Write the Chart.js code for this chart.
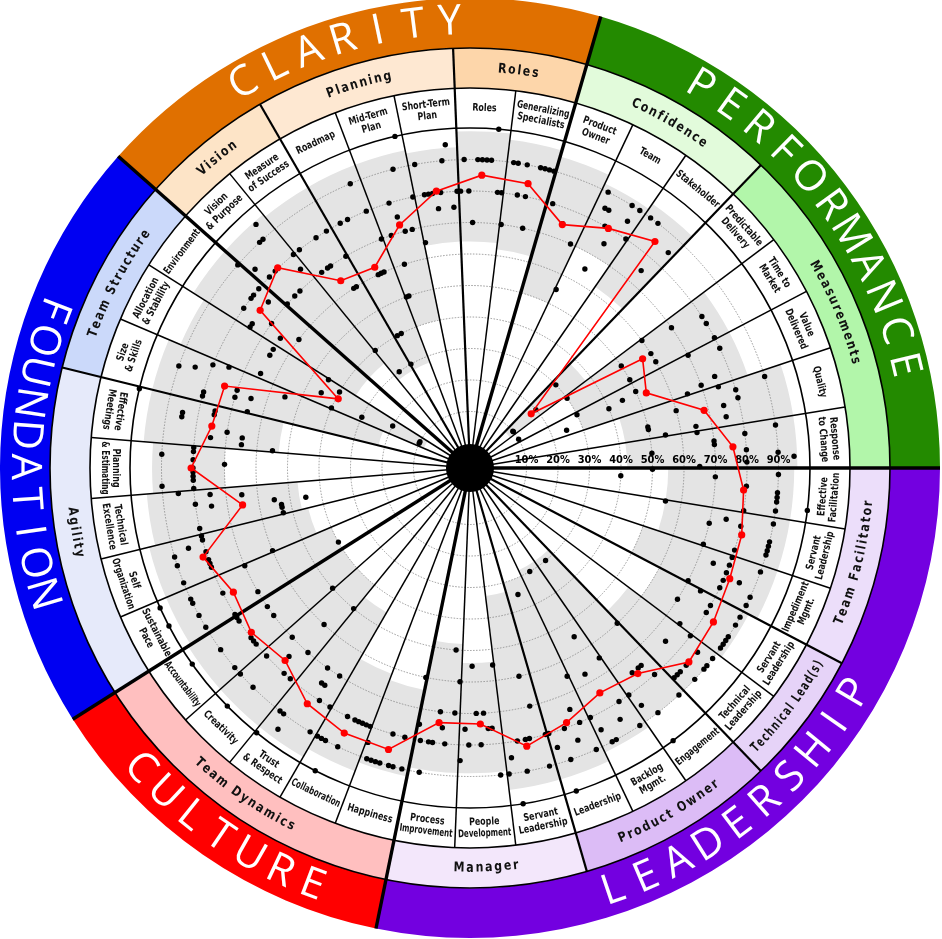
<!DOCTYPE html>
<html><head><meta charset="utf-8">
<script src="https://cdn.jsdelivr.net/npm/chart.js@4.4.1/dist/chart.umd.min.js"></script>
<style>html,body{margin:0;padding:0;background:#fff}canvas{display:block}</style>
</head><body>
<canvas id="c" width="942" height="939"></canvas>
<script>
// ---------- structure ----------
const categories = ['PERFORMANCE', 'LEADERSHIP', 'CULTURE', 'FOUNDATION', 'CLARITY'];
const categorySizes = [8, 11, 5, 8, 7];
const categoryColors = ['#238a00', '#7300e0', '#ff0000', '#0000f2', '#e07000'];
const categoryLetterStep = [4.55, 4.55, 4.5, 4.15, 4.65];   // degrees between letters
const categoryTextShift = [0.8, 0, -0.4, -2.4, -0.4];       // degrees

const subcategories = ['Confidence', 'Measurements', 'Team Facilitator', 'Technical Lead(s)', 'Product Owner', 'Manager',
  'Team Dynamics', 'Agility', 'Team Structure', 'Vision', 'Planning', 'Roles'];
const subcategorySizes = [3, 5, 3, 2, 3, 3, 5, 5, 3, 2, 3, 2];
const subcategoryColors = ['#e2fbdb', '#b2f6aa', '#ecdefa', '#e6d3f8', '#dcbcf6', '#f3e7fb',
  '#ffbfbf', '#e6eafa', '#cbd9fa', '#fde4c7', '#fee8d2', '#fdd6aa'];

const labels = [
  ['Product', 'Owner'], ['Team'], ['Stakeholder'], ['Predictable', 'Delivery'], ['Time to', 'Market'],
  ['Value', 'Delivered'], ['Quality'], ['Response', 'to Change'],
  ['Effective', 'Facilitation'], ['Servant', 'Leadership'], ['Impediment', 'Mgmt.'], ['Servant', 'Leadership'],
  ['Technical', 'Leadership'], ['Engagement'], ['Backlog', 'Mgmt.'], ['Leadership'], ['Servant', 'Leadership'],
  ['People', 'Development'], ['Process', 'Improvement'],
  ['Happiness'], ['Collaboration'], ['Trust', '& Respect'], ['Creativity'], ['Accountability'],
  ['Sustainable', 'Pace'], ['Self', 'Organization'], ['Technical', 'Excellence'], ['Planning', '& Estimating'],
  ['Effective', 'Meetings'], ['Size', '& Skills'], ['Allocation', '& Stability'], ['Environment'],
  ['Vision', '& Purpose'], ['Measure', 'of Success'], ['Roadmap'], ['Mid-Term', 'Plan'], ['Short-Term', 'Plan'],
  ['Roles'], ['Generalizing', 'Specialists']
];

const percentTicks = [10, 20, 30, 40, 50, 60, 70, 80, 90];

// ---------- values ----------
const averageScores = [
  74.7, 79.9, 84.9, 18.0, 56.9, 52.9, 68.6, 75.8,
  79.2, 80.9, 81.7, 83.5, 84.9, 76.3, 74.5, 78.5, 82.2, 73.4, 73.5,
  85.1, 85.2, 83.0, 76.8, 78.9,
  76.9, 81.4, 65.2, 80.6, 75.1, 74.2, 39.3, 75.4,
  80.2, 64.3, 62.6, 72.4, 80.6, 85.1, 84.2
];

// benchmark band (grey) low / high per item
const bandLow = [
  50, 70, 62, 8, 30, 30, 42, 42,
  55, 55, 50, 60, 55, 28, 28, 30, 33, 54, 48,
  64, 62, 45, 40, 40,
  40, 45, 47, 70, 53, 22, 8, 35,
  35, 28, 28, 40, 64, 64, 62
];
const bandHigh = [
  95, 92, 94, 38, 85, 85, 96, 96,
  95, 95, 95, 92, 90, 90, 92, 95, 95, 89, 89,
  92, 95, 98, 98, 98,
  97, 97, 95, 93, 96, 96, 92, 96,
  96, 95, 95, 95, 94, 99, 97
];

// individual responses (11 respondents) per item; null = no answer
const responsesPerformance = [
  [null, 80, null, null, null, 75, null, null, null, 70, null],
  [55, 90, 85, 85, 80, 65, 75, 90, 85, 90, 80],
  [null, 90, null, 90, null, null, null, 75, null, 85, null],
  [null, null, 30, null, null, 20, 10, 10, null, null, null],
  [60, 30, 70, 50, 80, 60, 80, 10, 60, 50, 80],
  [70, 30, 80, 50, 45, 40, null, 25, 75, 70, 65],
  [75, 90, 80, 60, 80, 75, 50, 50, 75, 65, 55],
  [65, 90, 80, 70, 70, 50, 80, 90, 95, 80, 65]
];
const responsesLeadership = [
  [50, 90, 70, 40, 80, 90, 90, 90, 100, 90, 80],
  [55, 90, 75, 80, 70, 90, 90, 90, 90, 80, 70],
  [80, 90, 80, 75, 80, 85, 80, 90, 80, 90, 70],
  [75, 90, 80, 90, 80, 70, 90, 90, 90, 90, 75],
  [80, 90, 85, 90, 90, 75, 85, 90, 85, 85, 85],
  [60, 90, 80, 75, 75, 30, 75, 90, 100, 85, 80],
  [65, 90, 80, 55, 85, 30, 67, 90, 90, 85, 80],
  [65, 90, 80, 75, 85, 35, 80, 90, 100, 85, 80],
  [80, 90, 70, 60, 80, 80, 90, 80, 100, 85, 90],
  [55, 90, 75, 75, 70, 80, 70, 55, 80, 75, 85],
  [60, 70, 50, 80, 75, 70, 80, 80, 90, 80, 75]
];
const responsesCulture = [
  [60, 90, 80, 90, 90, 80, 90, 90, 90, 90, 85],
  [80, 80, 80, 80, 80, 90, 80, 100, 90, 90, 90],
  [80, 90, 70, 80, 75, 75, 70, 95, 90, 90, 100],
  [50, 80, 70, 80, 60, 75, 90, 100, 70, 80, 90],
  [50, 90, 80, 80, 80, 70, 90, 100, 70, 80, 80]
];
const responsesFoundation = [
  [80, 90, 70, 40, 90, 100, 80, 90, 90, 100, 70],
  [60, 90, 80, 80, 80, 90, 80, 90, 85, 80, 80],
  [53, 80, 53, 53, 45, 55, 75, 80, 65, 75, 85],
  [80, 90, 80, 80, 80, 80, 70, 80, 90, 80, 80],
  [55, 65, 75, 65, 70, 75, 85, 85, 75, 75, 100],
  [65, 80, 80, 70, 65, 70, 90, 85, 55, 80, 75],
  [40, 65, 30, 10, 45, 10, 20, 65, 40, 65, 45],
  [75, 75, 65, 80, 70, 60, 80, 80, 75, 80, 90]
];
const responsesClarity = [
  [70, 85, 80, 70, 80, 70, 90, 90, 95, 75, 80],
  [40, 80, 70, 30, 70, 70, 80, 60, 60, 80, 70],
  [30, 40, 80, 40, 80, 60, 60, 60, 90, 80, 70],
  [50, 50, 70, 60, 80, 75, 70, 90, 70, 100, 80],
  [65, 90, 80, 80, 80, 75, 80, 90, 95, 75, 80],
  [80, 90, 80, 70, 90, 90, 90, 90, 100, 80, 80],
  [70, 90, 90, 80, 90, 80, 70, 90, 90, 90, 90]
];

// ---------- build ----------
const itemResponses = [].concat(responsesPerformance, responsesLeadership, responsesCulture, responsesFoundation, responsesClarity);
const RESPONDENTS = 11;
const respondentSeries = Array.from({length: RESPONDENTS}, (_, j) => itemResponses.map(r => (r[j] === undefined ? null : r[j])));

const N = labels.length;
const STEP_DEG = 360 / N;
const START_ANGLE = 90 - (categorySizes[0] - 0.5) * STEP_DEG;
const SLOT_SPREAD = 0.092;
const ZERO_OFFSET = -7.94;

function groupStarts(sizes) { const s = []; let k = 0; sizes.forEach(n => { s.push(k); k += n; }); return s; }
const catStarts = groupStarts(categorySizes);
const subStarts = groupStarts(subcategorySizes);

function flipAt(bDeg) { return bDeg > 90 && bDeg < 284; }

function arcText(ctx, cx, cy, text, r, theta, flip, tracking, stepArc, hScale, maxArc) {
  const chars = [...text];
  let sx = hScale || 1;
  let widths = chars.map(ch => ctx.measureText(ch).width * sx);
  const n = chars.length;
  let centers;
  if (stepArc) {
    centers = chars.map((_, k) => (k - (n - 1) / 2) * stepArc);
  } else {
    let total = widths.reduce((a, b) => a + b, 0) + tracking * (n - 1);
    if (maxArc && total > maxArc) {
      const f = maxArc / total; sx *= f; tracking *= f;
      widths = widths.map(w => w * f); total = maxArc;
    }
    let acc = 0; centers = [];
    widths.forEach(w => { centers.push(acc + w / 2 - total / 2); acc += w + tracking; });
  }
  const dir = flip ? -1 : 1;
  ctx.textAlign = 'center'; ctx.textBaseline = 'middle';
  chars.forEach((ch, k) => {
    const a = theta + dir * centers[k] / r;
    ctx.save();
    ctx.translate(cx + r * Math.cos(a), cy + r * Math.sin(a));
    ctx.rotate(flip ? a - Math.PI / 2 : a + Math.PI / 2);
    ctx.scale(sx, 1);
    ctx.fillText(ch, 0, 0);
    ctx.restore();
  });
}

const wheelPlugin = {
  id: 'wheel',
  afterDatasetsUpdate(chart) {
    const s = chart.scales.r;
    chart.data.datasets.forEach((ds, di) => {
      if (ds.slot === undefined) return;
      const meta = chart.getDatasetMeta(di);
      meta.data.forEach((pt, i) => {
        const v = ds.data[i];
        if (v === null || v === undefined) return;
        const p = s.getPointPosition(i + (ds.slot - (RESPONDENTS - 1) / 2) * SLOT_SPREAD, s.getDistanceFromCenterForValue(v));
        pt.x = p.x; pt.y = p.y;
      });
    });
  },
  beforeDatasetsDraw(chart) {
    const ctx = chart.ctx, s = chart.scales.r;
    const cx = s.xCenter, cy = s.yCenter;
    const R1 = s.drawingArea, R2 = R1 + 40, R3 = R1 + 80, R4 = R1 + 130;
    const ang = i => s.getIndexAngle(i) - Math.PI / 2;
    const bear = i => s.getIndexAngle(i) * 180 / Math.PI;
    const stepRad = 2 * Math.PI / N;
    const ringSeg = (r0, r1, i0, i1, color) => {
      ctx.beginPath();
      ctx.arc(cx, cy, r1, ang(i0), ang(i1), false);
      ctx.arc(cx, cy, r0, ang(i1), ang(i0), true);
      ctx.closePath();
      ctx.fillStyle = color; ctx.fill();
    };
    ctx.save();
    categories.forEach((c, k) => ringSeg(R3, R4, catStarts[k] - 0.5, catStarts[k] + categorySizes[k] - 0.5, categoryColors[k]));
    subcategories.forEach((c, k) => ringSeg(R2, R3, subStarts[k] - 0.5, subStarts[k] + subcategorySizes[k] - 0.5, subcategoryColors[k]));
    ctx.beginPath(); ctx.arc(cx, cy, R2, 0, Math.PI * 2); ctx.arc(cx, cy, R1, 0, Math.PI * 2, true);
    ctx.fillStyle = '#fff'; ctx.fill();
    for (let i = 0; i < N; i++) {
      ringSeg(s.getDistanceFromCenterForValue(bandLow[i]), s.getDistanceFromCenterForValue(bandHigh[i]), i - 0.5, i + 0.5, '#e4e4e4');
    }
    ctx.setLineDash([1.5, 1.5]); ctx.strokeStyle = '#8c8c8c'; ctx.lineWidth = 0.9;
    percentTicks.forEach(p => { ctx.beginPath(); ctx.arc(cx, cy, s.getDistanceFromCenterForValue(p), 0, Math.PI * 2); ctx.stroke(); });
    ctx.setLineDash([]);
    ctx.strokeStyle = '#000'; ctx.lineWidth = 1.6;
    [R1, R2, R3].forEach(r => { ctx.beginPath(); ctx.arc(cx, cy, r, 0, Math.PI * 2); ctx.stroke(); });
    const catB = new Set(catStarts), subB = new Set(subStarts);
    for (let k = 0; k < N; k++) {
      let w = 1.5, rr = R2;
      if (catB.has(k)) { w = 3.4; rr = R4; } else if (subB.has(k)) { w = 2.2; rr = R3; }
      const a = ang(k - 0.5);
      ctx.beginPath(); ctx.moveTo(cx, cy); ctx.lineTo(cx + rr * Math.cos(a), cy + rr * Math.sin(a));
      ctx.lineWidth = w; ctx.strokeStyle = '#000'; ctx.stroke();
    }
    ctx.beginPath(); ctx.arc(cx, cy, s.getDistanceFromCenterForValue(0) - 1, 0, Math.PI * 2); ctx.fillStyle = '#000'; ctx.fill();
    ctx.fillStyle = '#000'; ctx.font = 'bold 11px "DejaVu Sans Condensed", "Liberation Sans", sans-serif';
    ctx.textAlign = 'center'; ctx.textBaseline = 'bottom';
    percentTicks.forEach(p => ctx.fillText(p + '%', cx + s.getDistanceFromCenterForValue(p), cy - 2));
    // item labels
    const rm = (R1 + R2) / 2, lh = 11.5;
    const maxW = 2 * rm * Math.sin(Math.PI / N) * 0.92;
    ctx.textAlign = 'center'; ctx.textBaseline = 'middle';
    ctx.font = 'bold 10.5px "DejaVu Sans Condensed", "Liberation Sans", sans-serif';
    labels.forEach((lines, i) => {
      const th = ang(i), fl = flipAt(bear(i));
      ctx.save();
      ctx.translate(cx + rm * Math.cos(th), cy + rm * Math.sin(th));
      ctx.rotate(fl ? th - Math.PI / 2 : th + Math.PI / 2);
      lines.forEach((ln, k) => {
        const y = (k - (lines.length - 1) / 2) * lh;
        const w = ctx.measureText(ln).width * 0.84;
        const sx = w > maxW ? 0.84 * maxW / w : 0.84;
        ctx.save();
        ctx.scale(sx, 1);
        ctx.fillStyle = '#111'; ctx.fillText(ln, 0, y);
        ctx.restore();
      });
      ctx.restore();
    });
    // subcategory labels
    ctx.font = 'bold 13.5px "DejaVu Sans Condensed", "DejaVu Sans", sans-serif';
    ctx.fillStyle = '#111';
    const rs = (R2 + R3) / 2;
    subcategories.forEach((name, k) => {
      const mid = subStarts[k] + subcategorySizes[k] / 2 - 0.5;
      arcText(ctx, cx, cy, name, rs, ang(mid), flipAt(bear(mid)), 1.8, 0, 0.9, subcategorySizes[k] * stepRad * rs * 0.86);
    });
    // category labels
    ctx.font = '42px "Open Sans", "DejaVu Sans", sans-serif';
    ctx.fillStyle = '#fff';
    const rc = (R3 + R4) / 2 + 1;
    categories.forEach((name, k) => {
      const mid = catStarts[k] + categorySizes[k] / 2 - 0.5;
      const th = ang(mid) + categoryTextShift[k] * Math.PI / 180;
      arcText(ctx, cx, cy, name, rc, th, flipAt(bear(mid)), 0, rc * categoryLetterStep[k] * Math.PI / 180, 1, 0);
    });
    ctx.restore();
  }
};

const datasets = [{
  label: 'Team average', data: averageScores, order: 0,
  borderColor: '#ff0000', backgroundColor: '#ff0000', borderWidth: 1.6, fill: false,
  pointRadius: 3.6, pointBackgroundColor: '#ff0000', pointBorderColor: '#ff0000', pointBorderWidth: 0
}].concat(respondentSeries.map((d, j) => ({
  label: 'Respondent ' + (j + 1), data: d, slot: j, order: 1, showLine: false,
  borderWidth: 0, fill: false, pointRadius: 2.7, pointBackgroundColor: '#000', pointBorderColor: '#000', pointBorderWidth: 0
})));

new Chart(document.getElementById('c'), {
  type: 'radar',
  data: { labels: labels, datasets: datasets },
  options: {
    responsive: false, animation: false, devicePixelRatio: 1,
    layout: { padding: { left: 130, right: 132, top: 128, bottom: 131 } },
    plugins: { legend: { display: false }, tooltip: { enabled: false } },
    elements: { line: { tension: 0 } },
    scales: { r: { display: false, min: ZERO_OFFSET, max: 100, startAngle: START_ANGLE } }
  },
  plugins: [wheelPlugin]
});
</script>
</body></html>
